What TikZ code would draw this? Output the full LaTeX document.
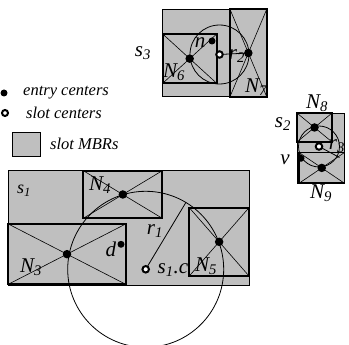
\documentclass[tikz,border=0pt]{standalone}
\usepackage{fontspec}
\setmainfont{Liberation Serif}
\newcommand\lbsub[2]{#1\textsubscript{#2}}
\tikzset{
 slotbox/.style={draw=black, line width=0.9pt, fill=black!25, outer sep=0pt, inner sep=0pt},
 entrybox/.style={draw=black, line width=1.8pt, outer sep=0pt, inner sep=0pt},
 diag/.style={line width=0.6pt},
 ring/.style={line width=0.8pt},
 edot/.style={circle, fill=black, inner sep=0pt, minimum size=8.5pt},
 smalldot/.style={circle, fill=black, inner sep=0pt, minimum size=7pt},
 sdot/.style={circle, draw=black, line width=2pt, fill=white, inner sep=0pt, minimum size=6.5pt},
 lab/.style={font=\fontsize{21}{21}\selectfont\itshape, inner sep=0pt},
 labs/.style={font=\fontsize{18}{18}\selectfont\itshape, inner sep=0pt},
 leg/.style={font=\fontsize{16.5}{16.5}\selectfont\itshape, inner sep=0pt, anchor=west},
}
\begin{document}
\begin{tikzpicture}[x=1pt,y=-1pt]
\useasboundingbox (0,0) rectangle (349,345);
% slot MBRs
\node[slotbox, minimum width=104pt, minimum height=87.4pt] (S3) at (214.7,53) {};
\node[slotbox, minimum width=47pt, minimum height=70pt] (S2) at (320.5,148.3) {};
\node[slotbox, minimum width=241pt, minimum height=114.3pt] (S1) at (128.8,227.85) {};
% entry MBRs
\node[entrybox, minimum width=54pt, minimum height=49.3pt] (N6) at (189.7,58.65) {};
\node[entrybox, minimum width=36.7pt, minimum height=87.4pt] (N7) at (248.35,53) {};
\node[entrybox, minimum width=34.4pt, minimum height=28.4pt] (N8) at (314.5,127.5) {};
\node[entrybox, minimum width=45.5pt, minimum height=30.8pt] (N9) at (321.75,167.9) {};
\node[entrybox, minimum width=79pt, minimum height=47.6pt] (N4) at (122.8,194.5) {};
\node[entrybox, minimum width=117.4pt, minimum height=60.3pt] (N3) at (67,254.15) {};
\node[entrybox, minimum width=59.7pt, minimum height=68.3pt] (N5) at (219.15,241.85) {};
\foreach \b in {N3,N4,N5,N6,N7,N8,N9}{
  \draw[diag] (\b.north west) -- (\b.south east) (\b.north east) -- (\b.south west);
}
% slot centers (coordinates for circles)
\coordinate (s3c) at (219.5,54.5);
\coordinate (s2c) at (319,146.5);
\coordinate (s1c) at (145.7,269.3);
\draw[ring] (s3c) circle[radius=29.5pt];
\draw[ring] (s2c) circle[radius=20.5pt];
\draw[ring] (s1c) circle[radius=78pt];
% entry centers
\node[edot] (c6) at (N6.center) {};
\node[edot] (c7) at (N7.center) {};
\node[edot] (c8) at (N8.center) {};
\node[edot] (c9) at (N9.center) {};
\node[edot] (c4) at (N4.center) {};
\node[edot] (c3) at (N3.center) {};
\node[edot] (c5) at (N5.center) {};
\node[smalldot] (nd) at (212,41) {};
\node[smalldot] (vd) at (301,158.3) {};
\node[smalldot] (dd) at (121,244.3) {};
% radii
\coordinate (r3end) at (339.5,157.5);
\coordinate (r1end) at (186,202.3);
\draw[ring] (s3c) -- (c7.center);
\draw[ring] (s2c) -- (r3end);
\draw[ring] (s1c) -- (r1end);
\node[sdot] (sc3) at (s3c) {};
\node[sdot] (sc2) at (s2c) {};
\node[sdot] (sc1) at (s1c) {};
% labels
\node[lab] (ls3) at (143,53) {\lbsub{s}{3}};
\node[lab] (ln) at (200,43) {n};
\node[lab] (lr2) at (237,56) {\lbsub{r}{2}};
\node[lab] (lN6) at (174,72) {\lbsub{N}{6}};
\node[lab] (lN7) at (256,87) {\lbsub{N}{7}};
\node[lab] (lN8) at (317,103) {\lbsub{N}{8}};
\node[lab] (ls2) at (283,124) {\lbsub{s}{2}};
\node[lab] (lr3) at (337,146) {\lbsub{r}{3}};
\node[lab] (lv) at (285,160) {v};
\node[lab] (lN9) at (321,193) {\lbsub{N}{9}};
\node[labs] (ls1) at (24,191) {\lbsub{s}{1}};
\node[lab] (lN4) at (100,185) {\lbsub{N}{4}};
\node[lab] (lN3) at (31,267) {\lbsub{N}{3}};
\node[lab] (lr1) at (155,231) {\lbsub{r}{1}};
\node[lab] (ld) at (111,249) {d};
\node[lab] (ls1c) at (173,270) {\lbsub{s}{1}.c};
\node[lab] (lN5) at (206,266) {\lbsub{N}{5}};
% legend
\node[edot, minimum size=7pt] (le) at (4,93) {};
\node[leg] (lte) at (23,93) {entry centers};
\node[sdot, minimum size=6pt] (ls) at (5,113) {};
\node[leg] (lts) at (26,113) {slot centers};
\node[slotbox, minimum width=28pt, minimum height=23.3pt] (lm) at (26,144.35) {};
\node[leg] (ltm) at (50,144) {slot MBRs};
\end{tikzpicture}
\end{document}
